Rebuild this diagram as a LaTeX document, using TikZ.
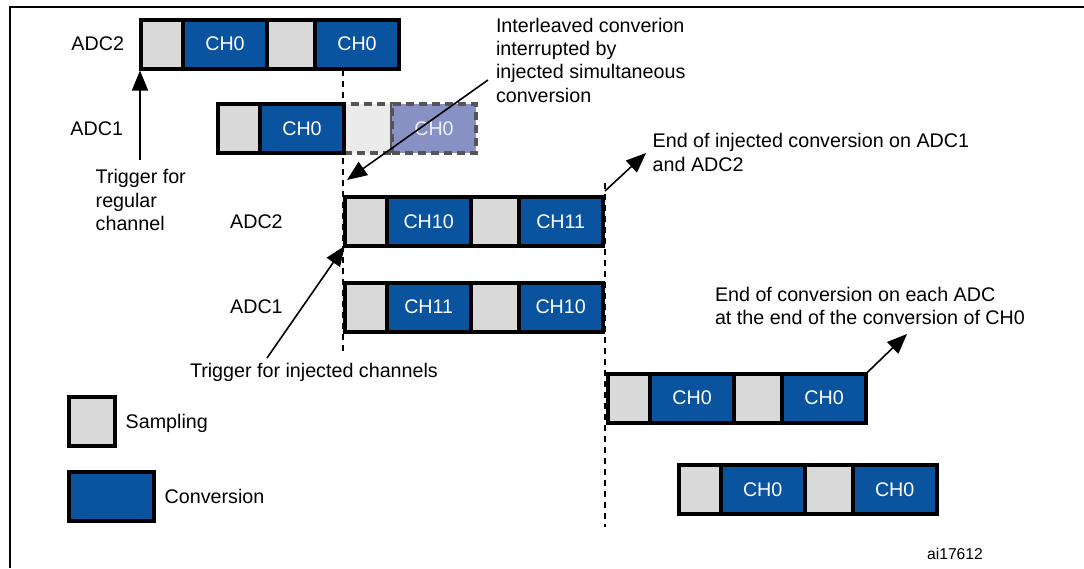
\documentclass[tikz,border=0pt]{standalone}
\usepackage{fontspec}
\setmainfont{Liberation Sans}
\usetikzlibrary{positioning,arrows.meta,backgrounds}

\definecolor{convblue}{RGB}{10,83,158}
\definecolor{smpgray}{RGB}{217,217,217}
\definecolor{ghostgray}{RGB}{234,234,234}
\definecolor{ghostblue}{RGB}{136,145,195}
\definecolor{ghostline}{RGB}{85,85,85}

\newcommand{\labelfont}{\fontsize{19.7}{23.4}\selectfont}

\tikzset{
  cell/.style={draw=black, line width=4pt, minimum height=49pt, inner sep=0pt, outer sep=0pt},
  smp/.style={cell, fill=smpgray, minimum width=42pt},
  smpb/.style={cell, fill=smpgray, minimum width=48pt},
  cnv/.style={cell, fill=convblue, text=white, minimum width=84pt},
  ghost/.style={draw=ghostline, line width=3.5pt, dash pattern=on 8pt off 5pt, minimum height=49pt, inner sep=0pt, outer sep=0pt},
  lbl/.style={inner sep=0pt, outer sep=0pt, text depth=0pt},
  note/.style={inner sep=0pt, outer sep=0pt, align=left, anchor=north west},
  marker/.style={line width=2pt, dash pattern=on 6pt off 5pt},
  arr/.style={line width=1.6pt, -{Triangle[length=20pt,width=16pt]}},
}

\newcommand{\adcbar}[4]{%
  \node[smp, anchor=north west] (#1a) at (#2) {};
  \node[cnv, right=0pt of #1a] (#1b) {#3};
  \node[smpb, right=0pt of #1b] (#1c) {};
  \node[cnv, right=0pt of #1c] (#1d) {#4};
}

\begin{document}
\begin{tikzpicture}[x=1pt, y=-1pt, font=\labelfont]
  \useasboundingbox (0,0) rectangle (1084,568);
  \draw[line width=2pt] (10,568) -- (10,6.5) -- (1084,6.5);

  \draw[marker] (343,70) -- (343,352);
  \draw[marker] (605,183) -- (605,527);

  % regular conversion
  \adcbar{t2}{141,19.5}{CH0}{CH0}
  \node[smp, anchor=north west] (t1a) at (218,104) {};
  \node[cnv, right=0pt of t1a] (t1b) {CH0};
  \begin{scope}[on background layer]
    \node[ghost, fill=ghostgray, minimum width=48pt, right=0pt of t1b] (t1c) {};
    \node[ghost, fill=ghostblue, minimum width=84pt, text=white!85!ghostblue, right=0pt of t1c] (t1d) {CH0};
  \end{scope}
  \node[lbl, left=17pt of t2a] (t2lbl) {ADC2};
  \node[lbl, left=95pt of t1a] (t1lbl) {ADC1};

  % injected conversion
  \adcbar{m2}{344.7,197}{CH10}{CH11}
  \adcbar{m1}{344.7,282.5}{CH11}{CH10}
  \node[lbl, left=62pt of m2a] (m2lbl) {ADC2};
  \node[lbl, left=62pt of m1a] (m1lbl) {ADC1};

  % resumed conversion
  \adcbar{l2}{608,373.7}{CH0}{CH0}
  \adcbar{l1}{678.7,465}{CH0}{CH0}

  % legend
  \node[cell, fill=smpgray, minimum width=46pt, minimum height=48.7pt, anchor=north west] (lgsmp) at (68.7,397) {};
  \node[cell, fill=convblue, minimum width=85pt, minimum height=48.7pt, anchor=north west] (lgcnv) at (68.7,472) {};
  \node[lbl, right=11pt of lgsmp] (lgsmplbl) {Sampling};
  \node[lbl, right=11pt of lgcnv] (lgcnvlbl) {Conversion};

  \node[note] (trgreg) at (95.7,169.5) {Trigger for\\regular\\channel};
  \node[note] (intl) at (496,17.8) {Interleaved converion\\interrupted by\\injected simultaneous\\conversion};
  \node[note] (endinj) at (652.7,133.5) {End of injected conversion on ADC1\\and ADC2};
  \node[note] (endconv) at (715,287.1) {End of conversion on each ADC\\at the end of the conversion of CH0};
  \node[lbl, anchor=west] (trginj) at (190,370) {Trigger for injected channels};
  \node[lbl, font=\fontsize{15.7}{18}\selectfont] (figid) at (955,554) {ai17612};

  \coordinate (regtail) at (140,160);
  \coordinate (intltail) at (488,80);
  \coordinate (intltip) at (347,180);
  \coordinate (injtail) at (267,358);
  \coordinate (endinjtail) at (605,191);
  \coordinate (endinjtip) at (646,153);
  \coordinate (endconvtip) at (907,334);

  \draw[arr, shorten >=2pt] (regtail) -- (regtail |- t2a.south);
  \draw[arr] (intltail) -- (intltip);
  \draw[arr] (injtail) -- (m2a.south west);
  \draw[arr] (endinjtail) -- (endinjtip);
  \draw[arr] (l2d.north east) -- (endconvtip);
\end{tikzpicture}
\end{document}
